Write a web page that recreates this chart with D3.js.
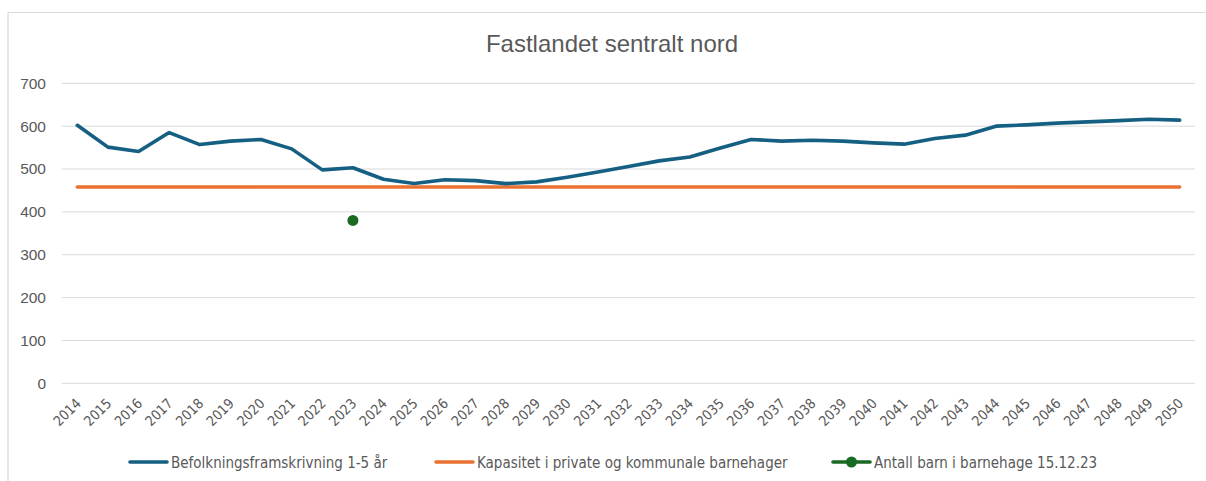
<!DOCTYPE html>
<html>
<head>
<meta charset="utf-8">
<script src="https://cdn.jsdelivr.net/npm/d3@7"></script>
<style>
  body { margin: 0; background: #fff; }
  svg { display: block; }
</style>
</head>
<body>
<svg id="chart" width="1206" height="481"></svg>
<script>
const years = d3.range(2014, 2051).map(String);

// Befolkningsframskrivning 1-5 år
const befolkning = [602, 551, 541, 585, 557, 565, 569, 547, 498, 503,
                    476, 466, 475, 473, 466, 470, 481, 493, 506, 519,
                    528, 549, 569, 565, 567, 565, 561, 558, 571, 579,
                    600, 603, 607, 610, 613, 616, 614];
// Kapasitet i private og kommunale barnehager
const kapasitet = years.map(() => 458);
// Antall barn i barnehage 15.12.23
const antallBarn = [{ year: "2023", value: 380 }];

const yTicks = [0, 100, 200, 300, 400, 500, 600, 700];

const seriesNames = [
  "Befolkningsframskrivning 1-5 år",
  "Kapasitet i private og kommunale barnehager",
  "Antall barn i barnehage 15.12.23"
];
const colors = ["#156082", "#E97132", "#196B24"];

const svg = d3.select("#chart");
const textColor = "#595959";
const narrow = "'DejaVu Sans Condensed', 'Liberation Sans Narrow', sans-serif";

// chart frame (top + left edges visible)
svg.append("line").attr("x1", 8).attr("x2", 1206).attr("y1", 12.5).attr("y2", 12.5)
  .attr("stroke", "#d9d9d9").attr("stroke-width", 1.2);
svg.append("line").attr("x1", 8).attr("x2", 8).attr("y1", 12.5).attr("y2", 481)
  .attr("stroke", "#d9d9d9").attr("stroke-width", 1.2);

const x = d3.scalePoint().domain(years).range([62, 1195]).padding(0.5);
const y = d3.scaleLinear().domain([0, 700]).range([383.3, 83.3]);

// title
svg.append("text")
  .attr("x", 612).attr("y", 52)
  .attr("text-anchor", "middle")
  .attr("font-family", "'Liberation Sans', Arial, sans-serif")
  .attr("font-size", 24)
  .attr("fill", textColor)
  .text("Fastlandet sentralt nord");

// gridlines
svg.append("g").selectAll("line")
  .data(yTicks)
  .enter().append("line")
  .attr("x1", 62).attr("x2", 1195)
  .attr("y1", d => y(d)).attr("y2", d => y(d))
  .attr("stroke", "#d9d9d9").attr("stroke-width", 1);

// y axis labels
const yAxis = svg.append("g")
  .attr("transform", "translate(46,0)")
  .call(d3.axisLeft(y).tickValues(yTicks).tickSize(0).tickPadding(0));
yAxis.select(".domain").remove();
yAxis.selectAll("text")
  .attr("font-family", "'Liberation Sans', Arial, sans-serif")
  .attr("font-size", 15.5)
  .attr("fill", textColor);

// x axis labels
const xAxis = svg.append("g")
  .attr("transform", "translate(0,383.3)")
  .call(d3.axisBottom(x).tickSize(0).tickPadding(0));
xAxis.select(".domain").remove();
xAxis.selectAll("text")
  .attr("font-family", narrow)
  .attr("font-size", 14)
  .attr("fill", textColor)
  .attr("text-anchor", "end")
  .attr("dy", 0)
  .attr("transform", "translate(4,21) rotate(-45)");

// lines
const line = d3.line().x((d, i) => x(years[i])).y(d => y(d));

svg.append("path")
  .datum(kapasitet)
  .attr("fill", "none")
  .attr("stroke", colors[1])
  .attr("stroke-width", 3.6)
  .attr("stroke-linecap", "round")
  .attr("d", line);

svg.append("path")
  .datum(befolkning)
  .attr("fill", "none")
  .attr("stroke", colors[0])
  .attr("stroke-width", 3.6)
  .attr("stroke-linejoin", "round")
  .attr("stroke-linecap", "round")
  .attr("d", line);

svg.selectAll(".dot")
  .data(antallBarn)
  .enter().append("circle")
  .attr("class", "dot")
  .attr("cx", d => x(d.year))
  .attr("cy", d => y(d.value))
  .attr("r", 5.5)
  .attr("fill", colors[2]);

// legend
const legendItems = [
  { x: 130, name: seriesNames[0], color: colors[0], marker: false },
  { x: 436, name: seriesNames[1], color: colors[1], marker: false },
  { x: 833, name: seriesNames[2], color: colors[2], marker: true }
];
const legend = svg.append("g").attr("transform", "translate(0,462)");
const li = legend.selectAll("g").data(legendItems).enter().append("g")
  .attr("transform", d => `translate(${d.x},0)`);
li.append("line")
  .attr("x1", 0).attr("x2", 37).attr("y1", 0).attr("y2", 0)
  .attr("stroke", d => d.color).attr("stroke-width", 3.6)
  .attr("stroke-linecap", "round");
li.filter(d => d.marker).append("circle")
  .attr("cx", 18.5).attr("cy", 0).attr("r", 5.5)
  .attr("fill", d => d.color);
li.append("text")
  .attr("x", 41).attr("y", 5.5)
  .attr("font-family", narrow)
  .attr("font-size", 15)
  .attr("fill", textColor)
  .text(d => d.name);
</script>
</body>
</html>
